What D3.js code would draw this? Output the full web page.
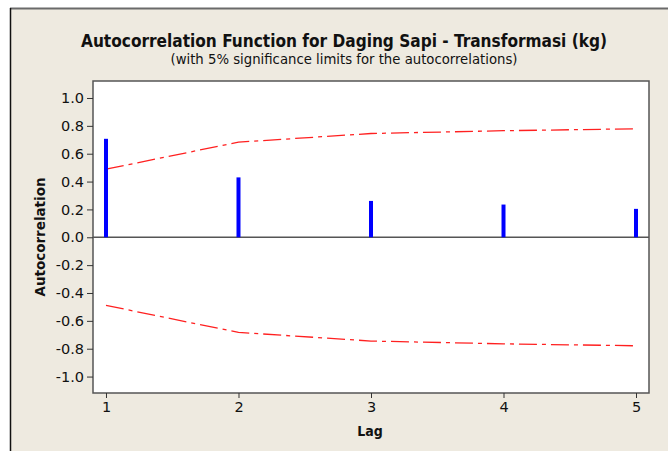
<!DOCTYPE html>
<html>
<head>
<meta charset="utf-8">
<script src="https://cdn.jsdelivr.net/npm/d3@7"></script>
<style>
  html, body { margin: 0; padding: 0; background: #ffffff; }
  svg { display: block; }
</style>
</head>
<body>
<div id="chart"></div>
<script>
// data chart
const lags = [1, 2, 3, 4, 5];
const acfValues = [0.707, 0.43, 0.261, 0.235, 0.204];
const upperLimit = [0.489, 0.683, 0.745, 0.765, 0.779];
const lowerLimit = [-0.489, -0.683, -0.745, -0.765, -0.779];
const yTicks = [1.0, 0.8, 0.6, 0.4, 0.2, 0.0, -0.2, -0.4, -0.6, -0.8, -1.0];

const width = 668;
const height = 451;
const font = "'DejaVu Sans Condensed', 'DejaVu Sans', sans-serif";

const svg = d3.select("#chart").append("svg")
  .attr("width", width)
  .attr("height", height);

// latar belakang jendela
svg.append("rect")
  .attr("x", 11).attr("y", 8)
  .attr("width", width - 11).attr("height", height - 8)
  .attr("fill", "#eeeae0");
svg.append("line")
  .attr("x1", 10).attr("x2", width).attr("y1", 8.5).attr("y2", 8.5)
  .attr("stroke", "#6a6a6a").attr("stroke-width", 2);
svg.append("line")
  .attr("x1", 10.5).attr("x2", 10.5).attr("y1", 8).attr("y2", height)
  .attr("stroke", "#111").attr("stroke-width", 1.5);

// skala
const x = d3.scaleLinear().domain([0.902, 5.098]).range([93, 649]);
const y = d3.scaleLinear().domain([-1.118, 1.122]).range([393, 81]);

// area plot
svg.append("rect")
  .attr("x", 93).attr("y", 81)
  .attr("width", 556).attr("height", 312)
  .attr("fill", "#ffffff")
  .attr("stroke", "#555").attr("stroke-width", 1.5);

// sumbu y
const yAxis = svg.append("g")
  .attr("transform", "translate(93,0)")
  .call(d3.axisLeft(y).tickValues(yTicks).tickSize(6).tickPadding(3).tickFormat(d => d.toFixed(1)));
yAxis.select(".domain").remove();
yAxis.selectAll("line").attr("stroke", "#333");
yAxis.selectAll("text")
  .attr("font-family", "'DejaVu Sans', sans-serif").attr("font-size", 14.5).attr("fill", "#111");

// sumbu x
const xAxis = svg.append("g")
  .attr("transform", "translate(0,393)")
  .call(d3.axisBottom(x).tickValues(lags).tickSize(5).tickPadding(4).tickFormat(d3.format("d")));
xAxis.select(".domain").remove();
xAxis.selectAll("line").attr("stroke", "#333");
xAxis.selectAll("text")
  .attr("font-family", "'DejaVu Sans', sans-serif").attr("font-size", 14.5).attr("fill", "#111");

// garis nol
svg.append("line")
  .attr("x1", 93).attr("x2", 649)
  .attr("y1", y(0)).attr("y2", y(0))
  .attr("stroke", "#555").attr("stroke-width", 1.5);

// batas signifikansi
const limitLine = d3.line()
  .x((d, i) => x(lags[i]))
  .y(d => y(d));
[upperLimit, lowerLimit].forEach(arr => {
  svg.append("path")
    .attr("d", limitLine(arr))
    .attr("fill", "none")
    .attr("stroke", "#ff2020")
    .attr("stroke-width", 1.3)
    .attr("stroke-dasharray", "18,5,4,5");
});

// batang ACF
svg.selectAll(".bar")
  .data(acfValues)
  .enter()
  .append("line")
  .attr("class", "bar")
  .attr("x1", (d, i) => x(lags[i]))
  .attr("x2", (d, i) => x(lags[i]))
  .attr("y1", y(0))
  .attr("y2", d => y(d))
  .attr("stroke", "#0000ff")
  .attr("stroke-width", 4);

// judul
svg.append("text")
  .attr("x", 344).attr("y", 47)
  .attr("text-anchor", "middle")
  .attr("font-family", font).attr("font-weight", "bold").attr("font-size", 17)
  .attr("textLength", 526).attr("lengthAdjust", "spacingAndGlyphs")
  .attr("fill", "#111")
  .text("Autocorrelation Function for Daging Sapi - Transformasi (kg)");
svg.append("text")
  .attr("x", 344).attr("y", 64)
  .attr("text-anchor", "middle")
  .attr("font-family", font).attr("font-size", 14)
  .attr("textLength", 347).attr("lengthAdjust", "spacingAndGlyphs")
  .attr("fill", "#111")
  .text("(with 5% significance limits for the autocorrelations)");

// label sumbu
svg.append("text")
  .attr("transform", "translate(45,237) rotate(-90)")
  .attr("text-anchor", "middle")
  .attr("font-family", font).attr("font-weight", "bold").attr("font-size", 14)
  .attr("textLength", 119).attr("lengthAdjust", "spacingAndGlyphs")
  .attr("fill", "#111")
  .text("Autocorrelation");
svg.append("text")
  .attr("x", 370).attr("y", 436)
  .attr("text-anchor", "middle")
  .attr("font-family", font).attr("font-weight", "bold").attr("font-size", 14)
  .attr("fill", "#111")
  .text("Lag");
</script>
</body>
</html>
